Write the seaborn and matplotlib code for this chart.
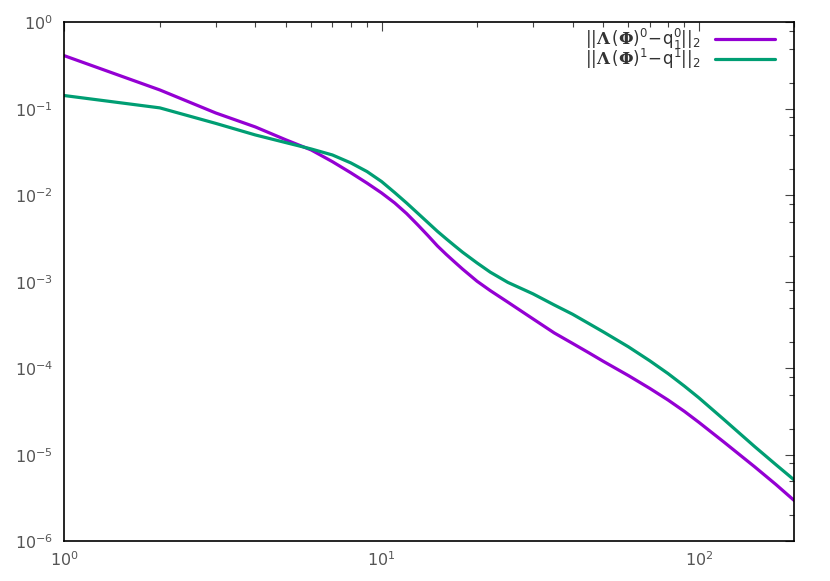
import numpy as np
import pandas as pd
import matplotlib
matplotlib.use('Agg')
import matplotlib.pyplot as plt
import matplotlib.ticker as mticker
import seaborn as sns

# values (log-log)
iters = [1, 2, 3, 4, 5, 6, 7, 8, 9, 10, 11, 12, 13, 14, 15, 16, 17, 18, 20,
         22, 25, 30, 35, 40, 45, 50, 60, 70, 80, 90, 100, 120, 150, 175, 200]
err0 = [0.413, 0.166, 0.090, 0.062, 0.0439, 0.0336, 0.0246, 0.0183, 0.0139,
        0.0107, 8.20e-3, 6.17e-3, 4.58e-3, 3.44e-3, 2.61e-3, 2.08e-3, 1.70e-3,
        1.41e-3, 1.02e-3, 7.96e-4, 5.85e-4, 3.75e-4, 2.58e-4, 1.95e-4,
        1.52e-4, 1.21e-4, 8.28e-5, 5.90e-5, 4.32e-5, 3.20e-5, 2.39e-5,
        1.41e-5, 7.30e-6, 4.56e-6, 2.97e-6]
err1 = [0.143, 0.103, 0.0682, 0.0501, 0.0408, 0.0345, 0.0294, 0.0238, 0.0189,
        0.0145, 0.0108, 8.17e-3, 6.24e-3, 4.86e-3, 3.85e-3, 3.15e-3, 2.62e-3,
        2.21e-3, 1.66e-3, 1.30e-3, 9.90e-4, 7.30e-4, 5.43e-4, 4.24e-4,
        3.31e-4, 2.65e-4, 1.78e-4, 1.23e-4, 8.73e-5, 6.27e-5, 4.59e-5,
        2.57e-5, 1.25e-5, 7.73e-6, 5.13e-6]

lab0 = r'$||\mathbf{\Lambda}\,(\mathbf{\Phi})^{0}\!-\!\mathrm{q}^{0}_{1}||_{2}$'
lab1 = r'$||\mathbf{\Lambda}\,(\mathbf{\Phi})^{1}\!-\!\mathrm{q}^{1}||_{2}$'

df = pd.DataFrame({
    'it': iters + iters,
    'err': err0 + err1,
    'series': [lab0] * len(iters) + [lab1] * len(iters),
})

sns.set_style('white')
plt.rcParams['font.family'] = ['DejaVu Sans']
plt.rcParams['mathtext.fontset'] = 'custom'
plt.rcParams['mathtext.rm'] = 'DejaVu Sans'
plt.rcParams['mathtext.it'] = 'DejaVu Sans:italic'
plt.rcParams['mathtext.bf'] = 'DejaVu Serif:bold'

fig = plt.figure(figsize=(8.3, 5.81), dpi=100)
ax = fig.add_axes([0.0775, 0.068, 0.8795, 0.8933])

sns.lineplot(data=df, x='it', y='err', hue='series',
             palette={lab0: '#9400D3', lab1: '#009E73'},
             linewidth=2.3, ax=ax)

ax.set_xscale('log')
ax.set_yscale('log')
ax.set_xlim(1, 200)
ax.set_ylim(1e-6, 1)
ax.set_xlabel('')
ax.set_ylabel('')

ax.xaxis.set_minor_locator(mticker.LogLocator(base=10, subs=np.arange(2, 10)))
ax.yaxis.set_minor_locator(mticker.LogLocator(base=10, subs=[2, 5, 8]))
ax.xaxis.set_minor_formatter(mticker.NullFormatter())
ax.yaxis.set_minor_formatter(mticker.NullFormatter())

ax.tick_params(which='both', direction='in', top=True, right=True,
               colors='#444444', labelcolor='#555555', labelsize=11.5)
ax.tick_params(which='major', length=6.5, width=0.8)
ax.tick_params(which='minor', length=3.5, width=0.8)
ax.tick_params(axis='x', pad=6)
ax.tick_params(axis='y', pad=8)
for s in ax.spines.values():
    s.set_color('black')
    s.set_linewidth(1.2)

leg = ax.legend(loc='upper right', bbox_to_anchor=(0.976, 0.995),
                frameon=False, markerfirst=False,
                fontsize=12, handlelength=3.6, labelspacing=-0.3,
                borderaxespad=0, borderpad=0.1, handletextpad=0.9)
for t in leg.get_texts():
    t.set_color('#333333')

fig.savefig('out.png', dpi=100)
